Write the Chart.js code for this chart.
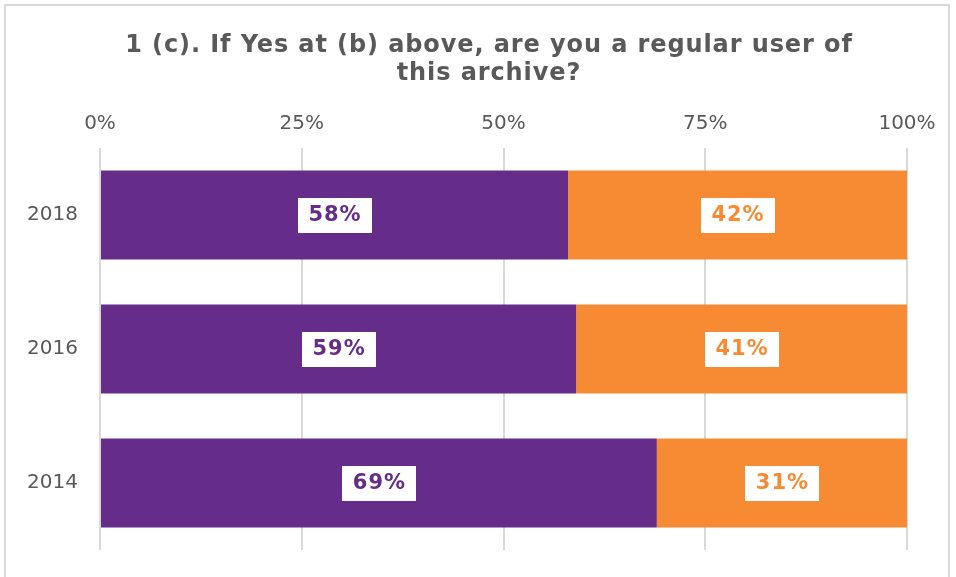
<!DOCTYPE html>
<html><head><meta charset="utf-8">
<script src="https://cdn.jsdelivr.net/npm/chart.js@4"></script>
<style>
html,body{margin:0;padding:0;background:#fff;overflow:hidden;}
#wrap{position:relative;width:956px;height:577px;overflow:hidden;}
#frame{position:absolute;left:4px;top:4px;width:946px;height:590px;border:2px solid #d9d9d9;box-sizing:border-box;}
canvas{position:absolute;left:0;top:0;}
</style></head>
<body>
<div id="wrap"><div id="frame"></div><canvas id="c" width="956" height="577"></canvas></div>
<script>
const titleLines = ["1 (c). If Yes at (b) above, are you a regular user of", "this archive?"];
const categories = ["2018", "2016", "2014"];
const yesValues = [58, 59, 69];
const noValues = [42, 41, 31];
const seriesNames = ["Yes", "No"];
const tickValues = [0, 25, 50, 75, 100];

const purple = "#652D89";
const orange = "#F68B33";

const customTitle = {
  id: "customTitle",
  afterDraw(chart) {
    const ctx = chart.ctx;
    ctx.save();
    ctx.font = "bold 24px 'DejaVu Sans'";
    ctx.letterSpacing = "0.9px";
    ctx.fillStyle = "#595959";
    ctx.textAlign = "center";
    ctx.textBaseline = "middle";
    const cx = 489;
    titleLines.forEach((t, i) => ctx.fillText(t, cx, 46 + i * 28));
    ctx.restore();
  }
};

const boxLabels = {
  id: "boxLabels",
  afterDatasetsDraw(chart) {
    const ctx = chart.ctx;
    ctx.save();
    ctx.font = "bold 21px 'DejaVu Sans'";
    ctx.letterSpacing = "1px";
    ctx.textAlign = "center";
    ctx.textBaseline = "middle";
    chart.data.datasets.forEach((ds, di) => {
      const meta = chart.getDatasetMeta(di);
      meta.data.forEach((bar, i) => {
        const txt = ds.data[i] + "%";
        const cx = (bar.x + bar.base) / 2;
        const cy = bar.y;
        const w = 74;
        const h = 35;
        ctx.fillStyle = "#ffffff";
        ctx.fillRect(Math.round(cx - w / 2), Math.round(cy - h / 2), w, h);
        ctx.fillStyle = ds.backgroundColor;
        ctx.fillText(txt, cx + 0.5, cy + 1);
      });
    });
    ctx.restore();
  }
};

new Chart(document.getElementById("c"), {
  type: "bar",
  data: {
    labels: categories,
    datasets: [
      { label: seriesNames[0], data: yesValues, backgroundColor: purple },
      { label: seriesNames[1], data: noValues, backgroundColor: orange }
    ]
  },
  options: {
    indexAxis: "y",
    responsive: false,
    animation: false,
    devicePixelRatio: 1,
    layout: { autoPadding: false, padding: { left: 0, right: 49, top: 100, bottom: 27 } },
    datasets: { bar: { categoryPercentage: 0.664, barPercentage: 1.0 } },
    plugins: {
      legend: { display: false },
      tooltip: { enabled: false },
      title: { display: false }
    },
    scales: {
      x: {
        position: "top",
        stacked: true,
        min: 0, max: 100,
        afterFit(s) { s.height = 48; s.paddingLeft = 0; s.paddingRight = 0; },
        afterBuildTicks(s) { s.ticks = tickValues.map(v => ({ value: v })); },
        grid: { color: "#d9d9d9", lineWidth: 2, drawTicks: false },
        border: { display: false },
        ticks: {
          color: "#595959",
          font: { family: "'DejaVu Sans'", size: 20 },
          padding: 12,
          callback: v => v + "%"
        }
      },
      y: {
        stacked: true,
        afterFit(s) { s.width = 100; s.paddingTop = 0; s.paddingBottom = 0; },
        grid: { display: false, drawTicks: false },
        border: { display: false },
        ticks: {
          color: "#595959",
          font: { family: "'DejaVu Sans'", size: 20 },
          padding: 22
        }
      }
    }
  },
  plugins: [boxLabels, customTitle]
});
</script>
</body></html>
